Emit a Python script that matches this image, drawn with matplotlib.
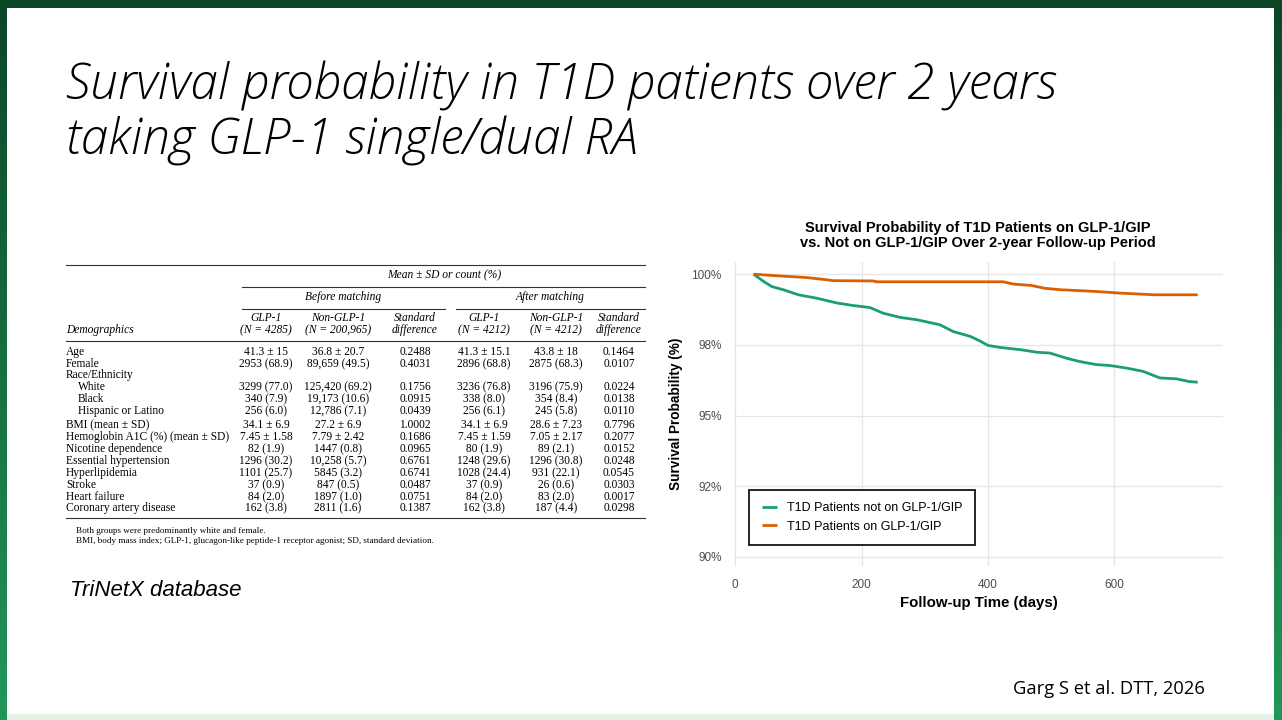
import numpy as np
import matplotlib
matplotlib.use("Agg")
import matplotlib.pyplot as plt
from matplotlib.patches import Rectangle

# --- survival curve data (days, survival %) ---
green_days = [29, 45, 58, 76, 100, 129, 161, 187, 213, 234, 261, 287, 324, 345, 372,
              387, 400, 419, 451, 477, 498, 524, 545, 572, 593, 619, 646, 672, 698, 719, 732]
green_surv = [100.0, 99.74, 99.56, 99.45, 99.27, 99.15, 98.98, 98.89, 98.82, 98.62, 98.47,
              98.39, 98.21, 97.97, 97.80, 97.64, 97.48, 97.41, 97.33, 97.24, 97.21, 97.03,
              96.91, 96.80, 96.77, 96.68, 96.56, 96.33, 96.30, 96.20, 96.18]
orange_days = [29, 61, 113, 145, 155, 218, 224, 387, 424, 440, 469, 490, 514, 569, 609, 664, 732]
orange_surv = [100.0, 99.95, 99.88, 99.80, 99.77, 99.76, 99.73, 99.73, 99.73, 99.65, 99.60,
               99.50, 99.45, 99.39, 99.33, 99.27, 99.27]
green_label = "T1D Patients not on GLP-1/GIP"
orange_label = "T1D Patients on GLP-1/GIP"
y_ticks = [0.90, 0.925, 0.95, 0.975, 1.0]
y_ticklabels = ["90%", "92%", "95%", "98%", "100%"]
x_ticks = [0, 200, 400, 600]

# --- demographics table ---
row_labels = ["Age", "Female", "Race/Ethnicity", "White", "Black", "Hispanic or Latino",
              "BMI (mean ± SD)", "Hemoglobin A1C (%) (mean ± SD)", "Nicotine dependence",
              "Essential hypertension", "Hyperlipidemia", "Stroke", "Heart failure",
              "Coronary artery disease"]
row_indent = [False, False, False, True, True, True, False, False, False, False,
              False, False, False, False]
glp_before = ["41.3 ± 15", "2953 (68.9)", "", "3299 (77.0)", "340 (7.9)", "256 (6.0)",
              "34.1 ± 6.9", "7.45 ± 1.58", "82 (1.9)", "1296 (30.2)", "1101 (25.7)",
              "37 (0.9)", "84 (2.0)", "162 (3.8)"]
non_before = ["36.8 ± 20.7", "89,659 (49.5)", "", "125,420 (69.2)", "19,173 (10.6)",
              "12,786 (7.1)", "27.2 ± 6.9", "7.79 ± 2.42", "1447 (0.8)", "10,258 (5.7)",
              "5845 (3.2)", "847 (0.5)", "1897 (1.0)", "2811 (1.6)"]
sd_before = ["0.2488", "0.4031", "", "0.1756", "0.0915", "0.0439", "1.0002", "0.1686",
             "0.0965", "0.6761", "0.6741", "0.0487", "0.0751", "0.1387"]
glp_after = ["41.3 ± 15.1", "2896 (68.8)", "", "3236 (76.8)", "338 (8.0)", "256 (6.1)",
             "34.1 ± 6.9", "7.45 ± 1.59", "80 (1.9)", "1248 (29.6)", "1028 (24.4)",
             "37 (0.9)", "84 (2.0)", "162 (3.8)"]
non_after = ["43.8 ± 18", "2875 (68.3)", "", "3196 (75.9)", "354 (8.4)", "245 (5.8)",
             "28.6 ± 7.23", "7.05 ± 2.17", "89 (2.1)", "1296 (30.8)", "931 (22.1)",
             "26 (0.6)", "83 (2.0)", "187 (4.4)"]
sd_after = ["0.1464", "0.0107", "", "0.0224", "0.0138", "0.0110", "0.7796", "0.2077",
            "0.0152", "0.0248", "0.0545", "0.0303", "0.0017", "0.0298"]
col_heads = [("GLP-1", "(N = 4285)"), ("Non-GLP-1", "(N = 200,965)"),
             ("Standard", "difference"), ("GLP-1", "(N = 4212)"),
             ("Non-GLP-1", "(N = 4212)"), ("Standard", "difference")]

W, H = 1282, 720
fig = plt.figure(figsize=(W / 100, H / 100), dpi=100)

# slide background in pixel coordinates (y down)
bg = fig.add_axes([0, 0, 1, 1])
bg.set_xlim(0, W)
bg.set_ylim(H, 0)
bg.axis("off")
grad = np.linspace(0, 1, 256)[:, None]
cmap = matplotlib.colors.LinearSegmentedColormap.from_list("frame", ["#0b4627", "#22965a"])
bg.imshow(grad, aspect="auto", cmap=cmap, extent=[0, W, H, 0], zorder=0)
bg.add_patch(Rectangle((7, 8), 1267, 706, facecolor="white", edgecolor="none", zorder=1))
bg.add_patch(Rectangle((7, 714), 1267, 6, facecolor="#e3f3e8", edgecolor="none", zorder=1))

# slide title
title_kw = dict(fontsize=35.5, family="Open Sans", style="italic", weight="light",
                color="black", va="center", ha="left", zorder=3)
bg.text(66, 86, "Survival probability in T1D patients over 2 years", **title_kw)
bg.text(66, 141, "taking GLP-1 single/dual RA", **title_kw)

bg.text(70, 590, "TriNetX database", fontsize=16, family="Liberation Sans",
        style="italic", va="center", ha="left", zorder=3)
bg.text(1013, 689, "Garg S et al. DTT, 2026", fontsize=13.2, family="Open Sans",
        va="center", ha="left", zorder=3)

# table
serif = "Liberation Serif"
fs = 8.3
rule_kw = dict(color="#333333", lw=0.8, zorder=3)
bg.plot([66, 645], [265, 265], **rule_kw)
bg.plot([242, 645], [287, 287], **rule_kw)
bg.plot([242, 445], [309, 309], **rule_kw)
bg.plot([456, 645], [309, 309], **rule_kw)
bg.plot([66, 645], [341, 341], **rule_kw)
bg.plot([66, 645], [518, 518], **rule_kw)

hdr = dict(family=serif, style="italic", fontsize=fs, va="center", ha="center", zorder=3)
bg.text(444, 275, "Mean ± SD or count (%)", **hdr)
bg.text(343, 297, "Before matching", **hdr)
bg.text(550, 297, "After matching", **hdr)
bg.text(66, 330, "Demographics", **{**hdr, "ha": "left"})
col_x = [266, 338, 415, 484, 556, 619]
for cx, (h1, h2) in zip(col_x, col_heads):
    bg.text(cx, 318, h1, **hdr)
    bg.text(cx, 330, h2, **hdr)

row_y = [352, 364, 375, 387, 399, 411, 425, 437, 449, 461, 473, 485, 497, 508]
cell = dict(family=serif, fontsize=fs, va="center", zorder=3)
cols = [glp_before, non_before, sd_before, glp_after, non_after, sd_after]
for i, (lab, ind) in enumerate(zip(row_labels, row_indent)):
    bg.text(78 if ind else 66, row_y[i], lab, ha="left", **cell)
    for cx, col in zip(col_x, cols):
        bg.text(cx, row_y[i], col[i], ha="center", **cell)

bg.text(76, 531, "Both groups were predominantly white and female.",
        family=serif, fontsize=6.6, va="center", ha="left", zorder=3)
bg.text(76, 541, "BMI, body mass index; GLP-1, glucagon-like peptide-1 receptor agonist; "
        "SD, standard deviation.", family=serif, fontsize=6.6, va="center", ha="left", zorder=3)

# survival chart
ax = fig.add_axes([734 / W, 1 - 566 / H, (1223 - 734) / W, (566 - 262) / H])
ax.set_facecolor("none")
for s in ax.spines.values():
    s.set_visible(False)
green, orange = "#1b9e77", "#d95f02"
ax.plot(green_days, np.array(green_surv) / 100, color=green,
        lw=2.0, label=green_label, solid_capstyle="butt")
ax.plot(orange_days, np.array(orange_surv) / 100, color=orange,
        lw=2.0, label=orange_label, solid_capstyle="butt")
ax.set_xlim(-2, 772)
ax.set_ylim(0.8968, 1.0043)
ax.set_xticks(x_ticks)
ax.set_yticks(y_ticks)
ax.set_yticklabels(y_ticklabels)
ax.grid(True, color="#e6e6e6", lw=0.9)
ax.set_axisbelow(True)
ax.tick_params(length=0, labelsize=8.5, labelcolor="#4d4d4d", pad=9)
for t in ax.get_xticklabels() + ax.get_yticklabels():
    t.set_family("Liberation Sans")
ax.set_xlabel("Follow-up Time (days)", fontsize=10.8, weight="bold",
              family="Liberation Sans", labelpad=4)
ax.set_ylabel("Survival Probability (%)", fontsize=9.8, weight="bold",
              family="Liberation Sans", labelpad=6)
leg = ax.legend(loc="lower left", bbox_to_anchor=(0.031, 0.069), borderaxespad=0,
                fancybox=False, edgecolor="black", framealpha=1,
                prop={"family": "Liberation Sans", "size": 9},
                handlelength=1.2, handletextpad=0.8, borderpad=1.0, labelspacing=0.5)
leg.get_frame().set_linewidth(1.2)

bg.text(978, 228, "Survival Probability of T1D Patients on GLP-1/GIP", fontsize=10.5,
        weight="bold", family="Liberation Sans", ha="center", va="center", zorder=3)
bg.text(978, 243, "vs. Not on GLP-1/GIP Over 2-year Follow-up Period", fontsize=10.5,
        weight="bold", family="Liberation Sans", ha="center", va="center", zorder=3)

fig.savefig("out.png", dpi=100)
